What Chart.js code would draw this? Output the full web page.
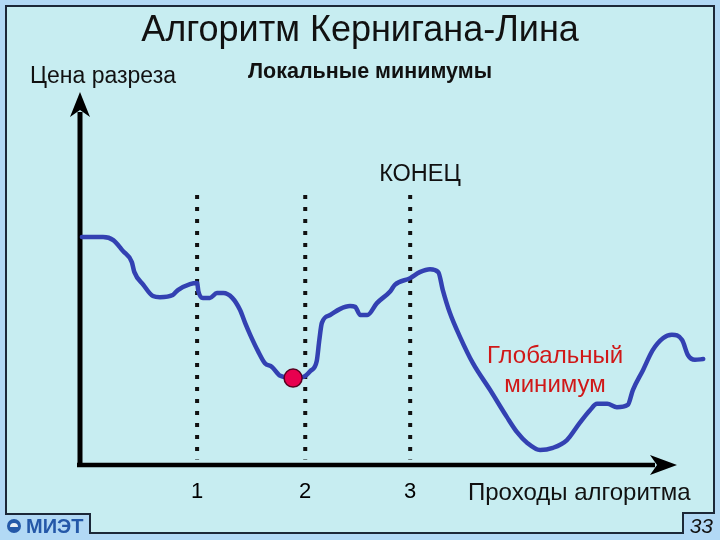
<!DOCTYPE html>
<html>
<head>
<meta charset="utf-8">
<script src="https://cdn.jsdelivr.net/npm/chart.js@4.4.0/dist/chart.umd.min.js"></script>
<style>
  html, body { margin: 0; padding: 0; background: #b2d9f5; }
  canvas { display: block; }
</style>
</head>
<body>
<canvas id="kl" width="720" height="540"></canvas>
<script>
// passes of the algorithm (dotted verticals) and their labels
var passX = [18.3, 35.2, 51.6];
var passLabels = ['1', '2', '3'];
var passSpan = [1.5, 72.4];

// cut cost along the run
var costX = [0.3, 3.6, 5.2, 6.7, 8.1, 8.5, 9.9, 11.4, 12.5, 14.5,
    15.3, 17.2, 18.3, 18.5, 19.2, 20.3, 21.4, 22.4, 23.8, 25.0,
    25.8, 26.6, 27.8, 28.9, 30.0, 31.3, 33.3, 34.9, 36.0, 37.0,
    37.4, 37.8, 39.1, 40.6, 42.2, 43.0, 43.8, 44.9, 46.4, 48.5,
    49.2, 51.6, 53.1, 54.7, 56.0, 56.7, 57.8, 59.4, 61.4, 64.1,
    66.7, 68.3, 69.9, 71.9, 73.9, 76.1, 78.1, 79.7, 80.8, 82.4,
    83.9, 85.6, 86.4, 88.0, 89.5, 91.1, 92.5, 94.1, 95.0, 96.1,
    97.4];
var costY = [61.1, 61.1, 60.3, 57.4, 54.4, 51.7, 48.3, 45.3, 45.0, 45.6,
    46.9, 48.5, 48.8, 46.6, 44.8, 44.8, 46.1, 46.1, 44.8, 41.6,
    38.1, 34.9, 30.6, 27.3, 26.3, 23.9, 23.3, 23.6, 25.2, 27.9,
    33.5, 38.1, 40.2, 41.8, 42.6, 42.4, 40.2, 40.2, 43.4, 46.6,
    48.3, 50.1, 51.7, 52.5, 51.7, 46.9, 40.8, 34.3, 27.3, 20.1,
    12.9, 8.8, 5.9, 4.0, 4.6, 6.7, 11.3, 14.7, 16.4, 16.4,
    15.5, 16.1, 20.1, 25.5, 30.8, 34.0, 34.9, 33.5, 29.5, 28.2,
    28.4];

// local minimum found (red dot)
var markX = [33.3];
var markY = [23.3];

var FONT = "'Liberation Sans', Arial, sans-serif";

function pts(xs, ys) {
    return xs.map(function (x, i) { return { x: x, y: ys[i] }; });
}

var datasets = [{
    data: pts(markX, markY),
    showLine: false,
    pointRadius: 9,
    pointBackgroundColor: '#e8004f',
    pointBorderColor: '#5a0020',
    pointBorderWidth: 1.5,
    clip: false,
    order: 0
}, {
    data: pts(costX, costY),
    borderColor: '#3341b2',
    borderWidth: 4.5,
    pointRadius: 0,
    cubicInterpolationMode: 'monotone',
    borderCapStyle: 'round',
    borderJoinStyle: 'round',
    clip: false,
    order: 1
}];

passX.forEach(function (p) {
    datasets.push({
        data: [{ x: p, y: passSpan[1] }, { x: p, y: passSpan[0] }],
        borderColor: '#111',
        borderWidth: 4,
        borderDash: [4, 8],
        borderCapStyle: 'butt',
        pointRadius: 0,
        clip: false,
        order: 2
    });
});

var slide = {
    id: 'slide',
    beforeDraw: function (chart) {
        var c = chart.ctx;
        c.save();
        c.fillStyle = '#b2d9f5';
        c.fillRect(0, 0, 720, 540);
        c.beginPath();
        c.moveTo(6, 6);
        c.lineTo(714, 6);
        c.lineTo(714, 513);
        c.lineTo(683, 513);
        c.lineTo(683, 533);
        c.lineTo(90, 533);
        c.lineTo(90, 514);
        c.lineTo(6, 514);
        c.closePath();
        c.fillStyle = '#c7edf1';
        c.fill();
        c.lineWidth = 2;
        c.strokeStyle = '#1c2838';
        c.stroke();
        c.restore();
    },
    beforeDatasetsDraw: function (chart) {
        var c = chart.ctx, xs = chart.scales.x, ys = chart.scales.y;
        var ox = xs.getPixelForValue(0), oy = ys.getPixelForValue(0);
        var top = ys.getPixelForValue(100);
        var tipX = 677;
        c.save();
        c.strokeStyle = '#000';
        c.fillStyle = '#000';
        c.lineWidth = 5;
        c.beginPath();
        c.moveTo(ox, oy + 2);
        c.lineTo(ox, top + 20);
        c.stroke();
        c.lineWidth = 4.5;
        c.beginPath();
        c.moveTo(ox - 3, oy);
        c.lineTo(tipX - 22, oy);
        c.stroke();
        // arrow heads
        c.beginPath();
        c.moveTo(ox, top);
        c.lineTo(ox + 10, top + 25);
        c.lineTo(ox, top + 18);
        c.lineTo(ox - 10, top + 25);
        c.closePath();
        c.fill();
        c.beginPath();
        c.moveTo(tipX, oy);
        c.lineTo(tipX - 27, oy - 10);
        c.lineTo(tipX - 20, oy);
        c.lineTo(tipX - 27, oy + 10);
        c.closePath();
        c.fill();
        // pass numbers under the dotted lines
        c.font = '22px ' + FONT;
        c.textAlign = 'center';
        c.textBaseline = 'middle';
        passX.forEach(function (p, i) {
            c.fillText(passLabels[i], xs.getPixelForValue(p), oy + 27);
        });
        c.restore();
    },
    afterDraw: function (chart) {
        var c = chart.ctx;
        c.save();
        c.fillStyle = '#111';
        c.textBaseline = 'alphabetic';
        c.textAlign = 'center';
        c.font = '36px ' + FONT;
        c.fillText('Алгоритм Кернигана-Лина', 360, 41);
        c.font = 'bold 21.5px ' + FONT;
        c.fillText('Локальные минимумы', 370, 78);
        c.font = '23.5px ' + FONT;
        c.fillText('КОНЕЦ', 420, 181);
        c.textAlign = 'left';
        c.font = '23px ' + FONT;
        c.fillText('Цена разреза', 30, 83);
        c.font = '24px ' + FONT;
        c.fillText('Проходы алгоритма', 468, 500);
        c.fillStyle = '#d01818';
        c.textAlign = 'center';
        c.fillText('Глобальный', 555, 363);
        c.fillText('минимум', 555, 392);
        // footer
        c.fillStyle = '#111';
        c.font = 'italic 21px ' + FONT;
        c.textAlign = 'right';
        c.fillText('33', 713, 533);
        c.fillStyle = '#2458a8';
        c.font = 'bold 20px ' + FONT;
        c.textAlign = 'left';
        c.fillText('МИЭТ', 26, 533);
        c.beginPath();
        c.arc(14, 526, 7, 0, Math.PI * 2);
        c.fillStyle = '#2458a8';
        c.fill();
        c.beginPath();
        c.arc(14, 527, 4, Math.PI, Math.PI * 2);
        c.fillStyle = '#e8eef6';
        c.fill();
        c.restore();
    }
};

new Chart(document.getElementById('kl'), {
    type: 'line',
    data: { datasets: datasets },
    options: {
        responsive: false,
        animation: false,
        devicePixelRatio: 1,
        // right side keeps room for the dot overflow that Chart.js reserves anyway
        layout: { padding: { left: 80, right: 11, top: 92, bottom: 75 } },
        plugins: { legend: { display: false }, tooltip: { enabled: false } },
        scales: {
            x: { type: 'linear', min: 0, max: 98.3, display: false },
            y: { type: 'linear', min: 0, max: 100, display: false }
        }
    },
    plugins: [slide]
});
</script>
</body>
</html>
